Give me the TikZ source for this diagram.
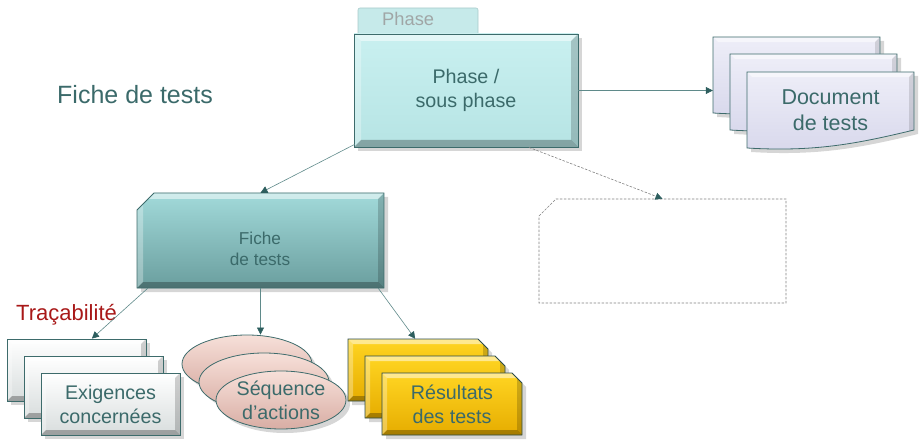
\documentclass[tikz,border=0pt]{standalone}
\usepackage{fontspec}
\setmainfont{Liberation Sans}
\usetikzlibrary{arrows.meta,shapes.geometric,shadows,calc}
\definecolor{bord}{HTML}{3D6B6B}
\definecolor{txt}{HTML}{3B6A6A}
\definecolor{arrc}{HTML}{2D5E5E}
\definecolor{linec}{HTML}{5F8A8A}
\definecolor{redt}{HTML}{A81818}
\definecolor{tabfill}{HTML}{C6EAEA}
\definecolor{tabbord}{HTML}{A9CACA}
\definecolor{tabtxt}{HTML}{A0A6A6}
\definecolor{phtop}{HTML}{C9F0F0}
\definecolor{phbot}{HTML}{B6E4E4}
\definecolor{doctop}{HTML}{EEEEF8}
\definecolor{docbot}{HTML}{D8D8EC}
\definecolor{fitop}{HTML}{A2DADA}
\definecolor{fibot}{HTML}{6A9E9E}
\definecolor{extop}{HTML}{FFFFFF}
\definecolor{exbot}{HTML}{D8DDDD}
\definecolor{setop}{HTML}{F7E0D9}
\definecolor{sebot}{HTML}{D8ADA4}
\definecolor{retop}{HTML}{FFD522}
\definecolor{rebot}{HTML}{E6AC00}
\newcommand\fsz[2]{\fontsize{#1}{#2}\selectfont}
\begin{document}
\begin{tikzpicture}[x=1pt,y=-1pt,
  shad/.style={drop shadow={shadow xshift=4pt,shadow yshift=-4pt,opacity=.16,fill=black}},
  bevel/.style={path picture={
    \path (path picture bounding box.north west) coordinate (bnw)
          (path picture bounding box.north east) coordinate (bne)
          (path picture bounding box.south west) coordinate (bsw)
          (path picture bounding box.south east) coordinate (bse);
    \fill[white,opacity=.5] (bnw) -- (bne) -- ([shift={(-#1pt,-#1pt)}]bne) -- ([shift={(#1pt,-#1pt)}]bnw) -- cycle;
    \fill[white,opacity=.3] (bnw) -- (bsw) -- ([shift={(#1pt,#1pt)}]bsw) -- ([shift={(#1pt,-#1pt)}]bnw) -- cycle;
    \fill[black,opacity=.28] (bsw) -- (bse) -- ([shift={(-#1pt,#1pt)}]bse) -- ([shift={(#1pt,#1pt)}]bsw) -- cycle;
    \fill[black,opacity=.18] (bne) -- (bse) -- ([shift={(-#1pt,#1pt)}]bse) -- ([shift={(-#1pt,-#1pt)}]bne) -- cycle;
  }},
  bevel/.default=5,
  inv/.style={inner sep=0pt,draw=none,fill=none},
  lbl/.style={inner sep=0pt,text=txt,align=center,font=\fsz{19.7}{24}},
  docst/.style={draw=bord,line width=.8pt,top color=doctop,bottom color=docbot,shad,
    path picture={\fill[white,opacity=.5] (path picture bounding box.north west) -- (path picture bounding box.north east) -- ([shift={(-5pt,-5pt)}]path picture bounding box.north east) -- ([shift={(5pt,-5pt)}]path picture bounding box.north west) -- cycle;
    \fill[black,opacity=.12] (path picture bounding box.north east) -- (path picture bounding box.south east) -- ([shift={(-5pt,5pt)}]path picture bounding box.south east) -- ([shift={(-5pt,-5pt)}]path picture bounding box.north east) -- cycle;}},
  exigst/.style={rectangle,minimum width=139,minimum height=62,inner sep=0pt,draw=bord,line width=.8pt,
    top color=extop,bottom color=exbot,bevel=5,shad},
  seqst/.style={ellipse,minimum width=130,minimum height=58,inner sep=0pt,draw=bord,line width=.8pt,
    top color=setop,bottom color=sebot,shad},
  resst/.style={draw=bord!70!black,line width=.8pt,top color=retop,bottom color=rebot,bevel=5,shad},
  conn/.style={draw=linec,line width=.6pt,-{Triangle[length=7pt,width=7pt,color=arrc]}},
  dconn/.style={draw=gray,line width=.6pt,dash pattern=on 2.5pt off 1.5pt,-{Triangle[length=7pt,width=7pt,color=arrc]}}
]
\useasboundingbox (0,0) rectangle (919,441);

% title
\node[anchor=base west,inner sep=0pt,text=txt,font=\fsz{25}{30}] (title) at (57,104) {Fiche de tests};

% phase tab and box
\node[rectangle,rounded corners=2pt,minimum width=120,minimum height=30,inner sep=0pt,
  draw=tabbord,line width=.6pt,fill=tabfill] (tab) at (418,23) {};
\node[anchor=base west,inner sep=0pt,text=tabtxt,font=\fsz{18.3}{22}] (tabtxt) at (382,26) {Phase};
\node[rectangle,minimum width=224,minimum height=113,inner sep=0pt,draw=bord,line width=.8pt,
  top color=phtop,bottom color=phbot,bevel=7,shad,lbl] (phase) at (466,90.5) {Phase /\\sous phase};

% documents
\path[docst] (713,37) -- (880,37) -- (880,95) .. controls (822,109) and (780,117) .. (713,113) -- cycle;
\node[inv,minimum width=167,minimum height=76] (doc1) at (796.5,75) {};
\path[docst] (730,54) -- (897,54) -- (897,112) .. controls (839,126) and (797,134) .. (730,130) -- cycle;
\node[inv,minimum width=167,minimum height=76] (doc2) at (813.5,92) {};
\path[docst] (747,72) -- (914,72) -- (914,130) .. controls (856,144) and (814,152) .. (747,148) -- cycle;
\node[inv,lbl,font=\fsz{21.5}{26},minimum width=167,minimum height=76] (doc3) at (830.5,110) {Document\\de tests};

% fiche
\path[draw=bord,line width=.8pt,top color=fitop,bottom color=fibot,bevel=6,shad]
  (137,210) -- (154,193) -- (384,193) -- (384,288) -- (137,288) -- cycle;
\node[inv,minimum width=247,minimum height=95] (fiche) at (260.5,240.5) {};
\node[lbl,font=\fsz{17.2}{21}] (fichetxt) at (260,249) {Fiche\\de tests};

% empty dashed box
\path[draw=gray,line width=.7pt,dash pattern=on 2.5pt off 1.5pt]
  (539,216) -- (556,199) -- (786,199) -- (786,303) -- (539,303) -- cycle;
\node[inv,minimum width=247,minimum height=104] (empty) at (662.5,251) {};

% tracabilite
\node[anchor=base west,inner sep=0pt,text=redt,font=\fsz{22}{26}] (trac) at (16,320) {Traçabilité};

% exigences
\node[exigst] (exig1) at (76.5,370) {};
\node[exigst] (exig2) at (93.5,387) {};
\node[exigst,lbl] (exig3) at (110.5,404) {Exigences\\concernées};

% sequence
\node[seqst] (seq1) at (247,364) {};
\node[seqst] (seq2) at (264,382) {};
\node[seqst,lbl] (seq3) at (281,400) {Séquence\\d’actions};

% resultats
\path[resst] (348,339) -- (478,339) -- (488,349) -- (488,401) -- (348,401) -- cycle;
\node[inv,minimum width=140,minimum height=62] (res1) at (418,370) {};
\path[resst] (365,356) -- (495,356) -- (505,366) -- (505,418) -- (365,418) -- cycle;
\node[inv,minimum width=140,minimum height=62] (res2) at (435,387) {};
\path[resst] (382,373) -- (512,373) -- (522,383) -- (522,435) -- (382,435) -- cycle;
\node[inv,lbl,minimum width=140,minimum height=62] (res3) at (452,404) {Résultats\\des tests};

% connectors
\draw[conn] (phase.east) -- (phase.east -| doc1.west);
\draw[conn] ([shift={(1pt,3pt)}]phase.south west) -- (fiche.north);
\draw[dconn] ($(phase.south west)!0.78!(phase.south east)$) -- (empty.north);
\draw[conn] ([xshift=11pt]fiche.south west) -- ($(exig1.north west)!0.61!(exig1.north east)$);
\draw[conn] (fiche.south) -- (fiche.south |- seq1.north);
\draw[conn] ([xshift=-6pt]fiche.south east) -- ($(res1.north west)!0.48!(res1.north east)$);
\end{tikzpicture}
\end{document}
